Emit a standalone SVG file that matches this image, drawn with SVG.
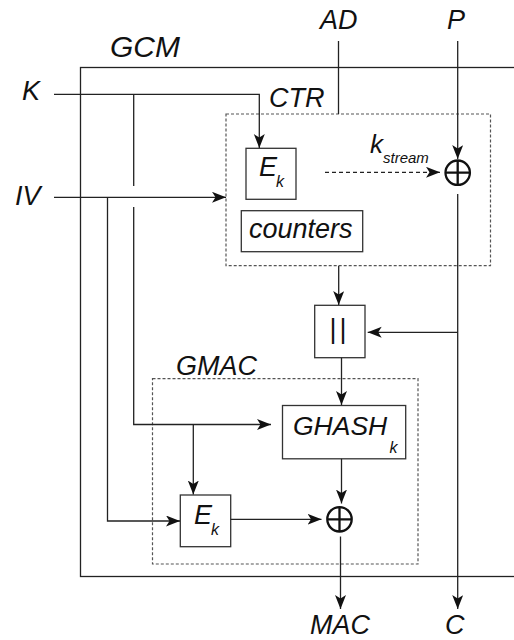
<svg xmlns="http://www.w3.org/2000/svg" width="514" height="640" viewBox="0 0 514 640">
<style>
.t{font-family:"Liberation Sans",Arial,sans-serif;font-style:italic;fill:#111;font-size:27px}
.s{font-size:16px}
.ln{fill:none;stroke:#222;stroke-width:1.3}
.bx{fill:#fff;stroke:#333;stroke-width:1.3}
.dash{fill:none;stroke:#555;stroke-width:1.2;stroke-dasharray:3 2}
.xor{fill:none;stroke:#111;stroke-width:2.3}
</style>
<defs>
<marker id="ah" markerUnits="userSpaceOnUse" markerWidth="16" markerHeight="12" refX="14" refY="5.5" orient="auto">
<path d="M0,0 L14,5.5 L0,11 L3.5,5.5 Z" fill="#111"/>
</marker>
</defs>
<g id="gcm">
<rect x="80.5" y="67.5" width="460" height="509" class="ln"/>
<text class="t" x="110" y="56.7" style="font-size:30px">GCM</text>
</g>
<g id="ctr">
<rect x="226" y="114" width="264.5" height="151.7" class="dash"/>
<text class="t" x="269" y="107">CTR</text>
</g>
<g id="gmac">
<rect x="152.5" y="378.7" width="265.5" height="185.3" class="dash"/>
<text class="t" x="176" y="374.7">GMAC</text>
</g>
<g id="labels">
<text class="t" x="320" y="29.3">AD</text>
<text class="t" x="447" y="29.3">P</text>
<text class="t" x="22" y="100">K</text>
<text class="t" x="15" y="205">IV</text>
<text class="t" x="310" y="634">MAC</text>
<text class="t" x="445" y="634">C</text>
</g>
<g id="ek1">
<rect x="246" y="148.3" width="50" height="51" class="bx"/>
<text class="t" x="259" y="176">E</text>
<text class="t s" x="276" y="187.3">k</text>
</g>
<g id="counters">
<rect x="241.3" y="210.7" width="121.4" height="41" class="bx"/>
<text class="t" x="249" y="237.5">counters</text>
</g>
<g id="xor1">
<circle cx="457.7" cy="172.7" r="12.2" class="xor"/>
<path d="M445.5,172.7 H469.9 M457.7,160.5 V184.9" class="xor"/>
</g>
<g id="kstream">
<text class="t" x="370" y="153" style="font-size:26px">k</text>
<text class="t" x="383" y="162.7" style="font-size:15px">stream</text>
</g>
<g id="concat">
<rect x="314.7" y="305.3" width="50.3" height="52.4" class="bx"/>
<text class="t" x="339.5" y="337.6" text-anchor="middle" letter-spacing="3" style="font-style:normal">||</text>
</g>
<g id="ghash">
<rect x="282.5" y="405.5" width="123.2" height="53.3" class="bx"/>
<text class="t" x="293" y="435" style="font-size:26.5px">GHASH</text>
<text class="t s" x="389.5" y="453">k</text>
</g>
<g id="ek2">
<rect x="180.3" y="495" width="50.4" height="51.7" class="bx"/>
<text class="t" x="194" y="524">E</text>
<text class="t s" x="211" y="535">k</text>
</g>
<g id="xor2">
<circle cx="339.5" cy="519.3" r="12.2" class="xor"/>
<path d="M327.3,519.3 H351.7 M339.5,507.1 V531.5" class="xor"/>
</g>
<g id="connectors">
<path d="M54,94.3 H259.3 V148" class="ln" marker-end="url(#ah)"/>
<path d="M133.7,94.3 V186 M133.7,207 V424.5 H271" class="ln" marker-end="url(#ah)"/>
<path d="M193.3,424.5 V494.5" class="ln" marker-end="url(#ah)"/>
<path d="M54,197.3 H226" class="ln" marker-end="url(#ah)"/>
<path d="M107.5,197.3 V521 H180" class="ln" marker-end="url(#ah)"/>
<path d="M338.5,41 V114" class="ln"/>
<path d="M457.7,41 V159" class="ln" marker-end="url(#ah)"/>
<path d="M325,172.3 H440" class="ln" stroke-dasharray="4 3" marker-end="url(#ah)"/>
<path d="M457.7,194 V609" class="ln" marker-end="url(#ah)"/>
<path d="M457.7,332.3 H367.7" class="ln" marker-end="url(#ah)"/>
<path d="M338.7,265.7 V305" class="ln" marker-end="url(#ah)"/>
<path d="M341.5,357.7 V405" class="ln" marker-end="url(#ah)"/>
<path d="M341.5,458.8 V503.5" class="ln" marker-end="url(#ah)"/>
<path d="M230.7,519.3 H321.5" class="ln" marker-end="url(#ah)"/>
<path d="M340.5,536.5 V609" class="ln" marker-end="url(#ah)"/>
</g>
</svg>
